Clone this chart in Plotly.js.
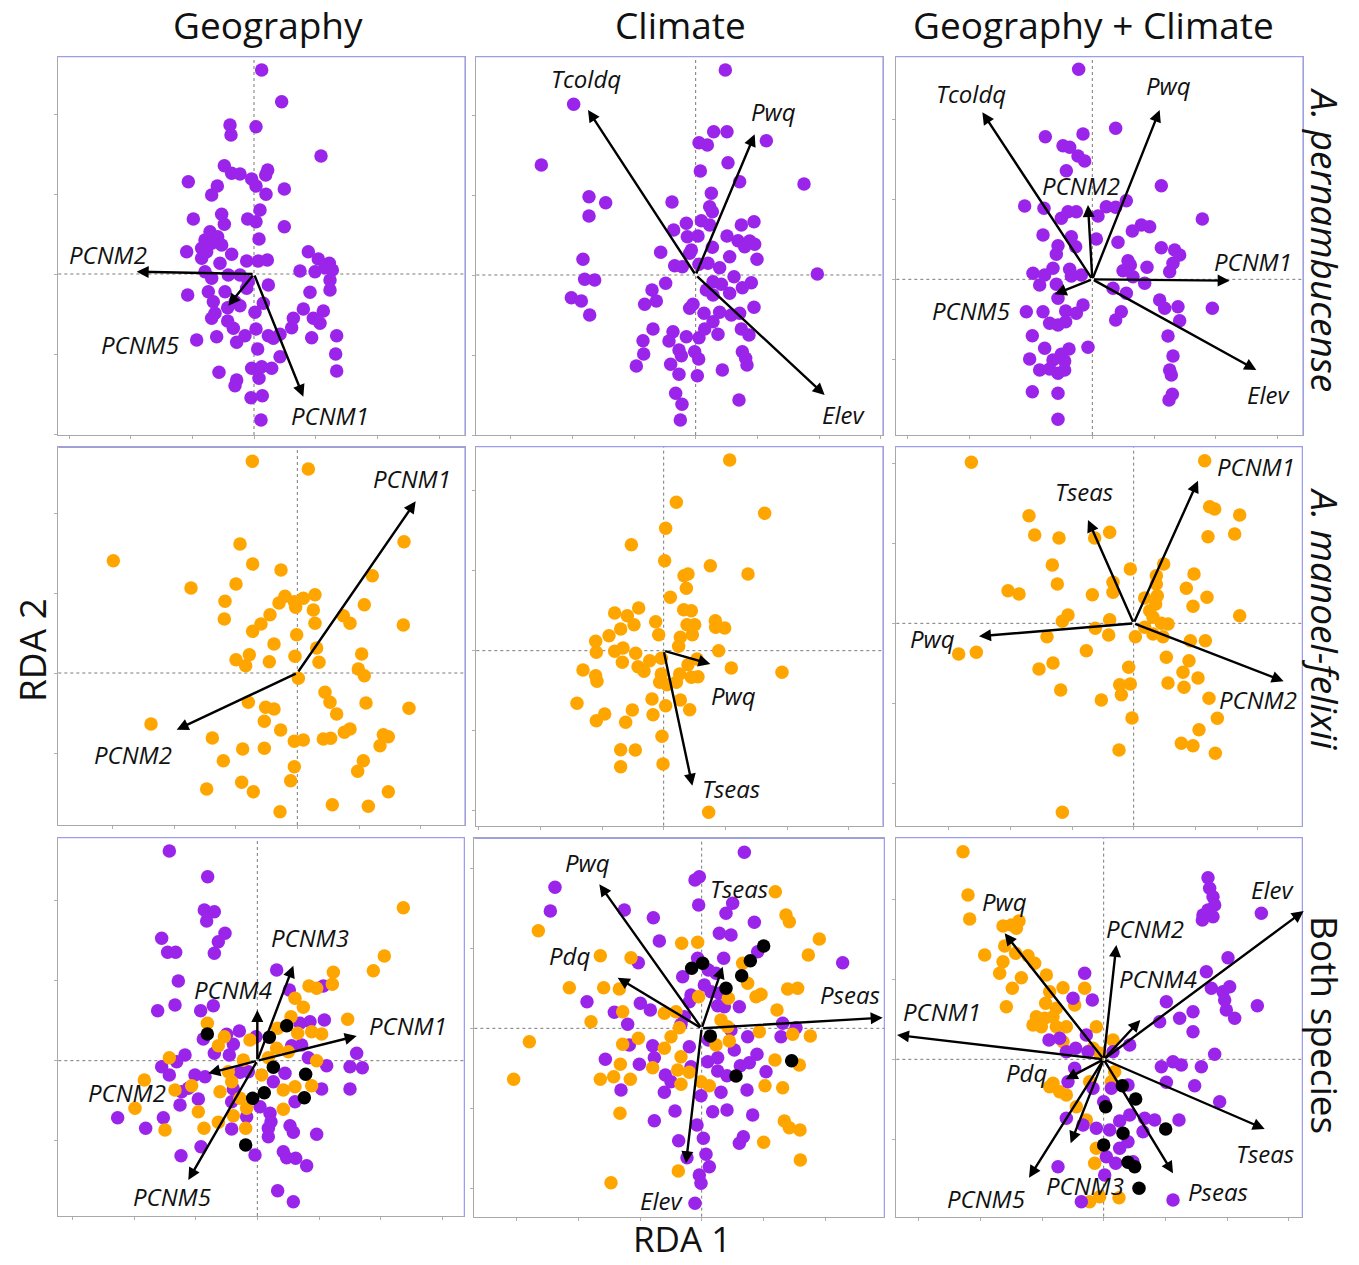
<!DOCTYPE html>
<html><head><meta charset="utf-8">
<script src="https://cdn.plot.ly/plotly-3.0.1.min.js"></script>
<style>html,body{margin:0;padding:0;background:#fff}#chart{width:1359px;height:1265px}</style>
</head><body><div id="chart"></div>
<script>
// ---------------- DATA (RDA site scores and biplot arrows) ----------------
const colTitles = ['Geography', 'Climate', 'Geography + Climate'];
const rowTitles = ['A. pernambucense', 'A. manoel-felixii', 'Both species'];
const axisTitleX = 'RDA 1';
const axisTitleY = 'RDA 2';

// Row 1: A. pernambucense
const p1Purple = [[0.23,6.12],[0.83,5.17],[-0.72,4.47],[0.06,4.42],[-0.69,4.17],[2.01,3.54],[-0.89,3.25],[-0.67,3.02],[-0.42,3.00],[0.41,3.12],[0.35,2.97],[-1.97,2.77],[-0.07,2.85],[-1.10,2.64],[-1.27,2.37],[0.06,2.64],[0.91,2.55],[0.36,2.39],[0.18,1.92],[-0.97,1.79],[-1.82,1.65],[-0.19,1.65],[0.06,1.57],[-0.89,1.49],[0.91,1.42],[-1.32,1.27],[-1.09,1.12],[0.15,1.05],[-1.47,1.02],[-1.27,0.92],[-0.97,0.87],[-1.57,0.77],[-2.02,0.67],[-1.42,0.67],[-0.67,0.59],[-1.57,0.47],[-0.22,0.39],[0.13,0.39],[0.40,0.42],[1.63,0.67],[1.93,0.45],[2.26,0.32],[2.13,0.19],[2.35,0.12],[1.38,0.09],[1.83,0.07],[-1.02,0.32],[-1.47,0.07],[-1.27,-0.13],[-0.77,-0.03],[-0.42,-0.03],[-0.17,-0.23],[0.43,-0.33],[2.28,-0.18],[2.28,-0.48],[1.68,-0.55],[-1.99,-0.63],[-1.37,-0.53],[-0.87,-0.53],[-1.22,-0.83],[-0.57,-0.83],[-0.42,-0.95],[0.28,-0.88],[1.48,-1.05],[-1.17,-1.18],[0.03,-1.15],[2.08,-1.11],[-1.27,-1.33],[-0.79,-1.41],[1.18,-1.33],[1.78,-1.33],[1.98,-1.48],[-0.62,-1.63],[0.06,-1.65],[1.13,-1.61],[-1.12,-1.88],[-0.27,-1.85],[0.43,-1.85],[0.78,-1.81],[0.58,-1.93],[-1.72,-1.98],[-0.52,-2.05],[1.73,-1.91],[2.48,-1.85],[0.11,-2.25],[0.78,-2.48],[2.45,-2.40],[-0.07,-2.83],[0.23,-2.78],[0.53,-2.83],[-1.05,-2.95],[0.15,-3.13],[-0.52,-3.18],[-0.57,-3.35],[2.48,-2.91],[-0.09,-3.71],[0.25,-3.65],[0.21,-4.38],[-0.79,-1.01],[-0.22,-0.43]];
const p1Vars = ['PCNM2','PCNM5','PCNM1'];
const p1Arrows = [[-3.52,0.07],[-0.77,-0.95],[1.48,-3.68]];

const p2Purple = [[0.89,6.15],[-3.66,5.12],[0.54,4.30],[0.94,4.30],[2.12,4.03],[0.10,3.97],[0.35,3.90],[-4.63,3.30],[0.97,3.37],[0.14,3.12],[1.32,2.80],[3.25,2.73],[0.47,2.45],[-3.20,2.35],[-2.70,2.17],[-0.71,2.19],[0.42,2.05],[0.50,1.90],[-3.20,1.77],[-0.28,1.55],[0.17,1.63],[0.42,1.50],[1.37,1.50],[1.75,1.60],[-0.66,1.35],[-0.25,1.15],[0.07,1.17],[0.94,1.17],[1.27,1.03],[1.62,1.02],[1.77,0.92],[1.47,0.85],[0.50,0.83],[-0.13,0.75],[-1.05,0.68],[-0.18,0.65],[1.02,0.55],[1.84,0.47],[-3.38,0.47],[-0.63,0.28],[-0.40,0.25],[0.10,0.32],[0.37,0.35],[0.72,0.22],[3.65,0.03],[1.15,-0.05],[-3.33,-0.13],[-3.03,-0.15],[0.52,-0.20],[0.77,-0.28],[1.67,-0.23],[1.40,-0.38],[-0.90,-0.25],[0.32,-0.45],[-1.31,-0.45],[1.02,-0.55],[0.52,-0.60],[-3.73,-0.68],[-3.43,-0.78],[-1.18,-0.78],[-1.53,-0.88],[-0.08,-0.88],[-0.18,-1.00],[1.75,-0.97],[0.25,-1.15],[0.72,-1.12],[1.07,-1.20],[1.32,-1.15],[-3.18,-1.20],[0.52,-1.40],[-1.28,-1.62],[-0.68,-1.70],[0.27,-1.62],[0.67,-1.78],[1.37,-1.62],[1.60,-1.80],[-0.28,-1.85],[0.10,-1.88],[-1.58,-1.97],[-0.80,-1.98],[-0.50,-2.25],[-0.43,-2.42],[-0.03,-2.30],[0.09,-2.52],[-1.56,-2.37],[1.40,-2.30],[1.50,-2.50],[1.54,-2.70],[-1.78,-2.73],[-0.75,-2.68],[-0.50,-2.98],[0.05,-3.02],[0.80,-2.85],[-0.60,-3.55],[-0.41,-3.88],[1.30,-3.75],[-0.46,-4.35]];
const p2Vars = ['Tcoldq','Pwq','Elev'];
const p2Arrows = [[-3.23,4.95],[1.77,4.22],[3.87,-3.60]];

const p3Purple = [[-0.41,6.30],[0.70,4.53],[-1.41,4.28],[-0.28,4.36],[-0.88,4.01],[-0.68,3.96],[-0.43,3.70],[-0.23,3.55],[-0.78,3.26],[2.07,2.81],[-2.03,2.20],[-1.45,2.13],[1.02,2.36],[0.42,2.18],[0.70,2.16],[-0.73,2.03],[-0.48,2.03],[0.17,1.90],[-0.93,1.83],[3.30,1.81],[1.47,1.63],[1.72,1.58],[1.20,1.45],[-1.48,1.33],[-0.63,1.28],[0.12,1.21],[0.77,1.11],[-0.50,0.98],[-1.03,1.01],[2.07,0.95],[2.47,0.88],[2.62,0.73],[-1.08,0.75],[2.42,0.48],[1.07,0.56],[1.14,0.43],[1.64,0.36],[-1.18,0.33],[-0.68,0.30],[0.92,0.26],[2.32,0.23],[-1.78,0.18],[-1.43,0.13],[-0.63,0.10],[-0.33,0.13],[1.22,0.08],[1.57,-0.12],[-1.58,-0.17],[-1.08,-0.15],[0.62,-0.27],[1.02,-0.42],[-1.03,-0.57],[2.02,-0.62],[2.17,-0.87],[2.57,-0.82],[3.60,-0.87],[-1.98,-0.97],[-1.48,-0.97],[-0.80,-0.95],[-0.28,-0.77],[-0.48,-1.02],[0.87,-0.97],[-1.28,-1.32],[-1.03,-1.37],[-0.80,-1.27],[0.70,-1.22],[2.62,-1.24],[-1.80,-1.69],[2.27,-1.70],[-1.43,-2.07],[-0.70,-2.09],[-0.13,-2.04],[-0.93,-2.25],[-1.88,-2.39],[-1.18,-2.42],[-0.83,-2.45],[2.42,-2.30],[-1.58,-2.72],[-1.28,-2.69],[-1.03,-2.82],[-0.83,-2.72],[2.32,-2.72],[2.37,-2.87],[-1.80,-3.37],[-1.03,-3.42],[2.40,-3.45],[2.30,-3.62],[-1.03,-4.20]];
const p3Vars = ['Tcoldq','Pwq','PCNM2','PCNM1','PCNM5','Elev'];
const p3Arrows = [[-3.30,5.01],[2.02,5.08],[-0.13,2.23],[4.12,-0.04],[-1.13,-0.45],[4.92,-2.72]];

// Row 2: A. manoel-felixii
const p4Orange = [[-1.35,6.35],[0.33,6.12],[-5.52,3.37],[-1.72,3.87],[3.20,3.94],[-1.34,3.27],[-0.49,3.09],[2.25,2.92],[-3.19,2.55],[-1.84,2.67],[-2.17,2.15],[-0.37,2.30],[-0.55,2.10],[-0.09,2.14],[0.18,2.24],[0.53,2.35],[-0.05,1.97],[0.48,1.89],[2.01,2.05],[-2.19,1.62],[-0.82,1.75],[-1.09,1.47],[0.53,1.49],[1.38,1.72],[1.58,1.49],[3.18,1.44],[-1.34,1.25],[-0.02,1.15],[-0.70,0.87],[0.58,0.75],[1.93,0.57],[-1.84,0.40],[-1.44,0.55],[-1.55,0.22],[-0.84,0.34],[-0.07,0.50],[0.65,0.32],[1.83,0.12],[2.01,-0.08],[0.03,-0.16],[0.83,-0.58],[0.98,-0.88],[-1.47,-0.88],[-0.95,-1.03],[-0.70,-1.08],[2.06,-0.90],[3.35,-1.06],[1.18,-1.23],[-0.99,-1.45],[-4.39,-1.53],[-0.50,-1.71],[1.41,-1.78],[1.58,-1.68],[-2.55,-1.95],[-0.09,-2.05],[0.18,-2.01],[0.78,-1.98],[1.00,-1.96],[2.58,-1.85],[2.73,-1.91],[2.48,-2.18],[-1.64,-2.28],[-0.99,-2.26],[-2.22,-2.63],[1.98,-2.63],[1.81,-2.95],[-0.09,-2.81],[-1.67,-3.28],[-0.20,-3.23],[-2.72,-3.48],[-1.32,-3.56],[2.73,-3.56],[1.05,-3.95],[2.13,-4.00],[-0.52,-4.16]];
const p4Vars = ['PCNM1','PCNM2'];
const p4Arrows = [[3.55,5.15],[-3.62,-1.70]];

const p5Orange = [[1.98,5.72],[0.38,4.45],[3.03,4.12],[0.06,3.67],[-0.97,3.18],[0.03,2.70],[1.40,2.55],[2.53,2.30],[0.61,2.25],[0.73,2.30],[0.68,1.87],[0.20,1.60],[-1.47,1.13],[-0.75,1.28],[-1.09,1.05],[-0.89,0.78],[0.60,1.23],[0.83,1.20],[-0.24,0.87],[0.70,0.78],[0.93,0.78],[1.55,0.90],[1.56,0.70],[1.83,0.68],[-1.29,0.65],[0.86,0.48],[-0.15,0.48],[-1.64,0.45],[0.50,0.40],[-2.04,0.28],[0.45,0.13],[1.65,0.00],[-2.02,-0.05],[-1.47,-0.02],[-1.22,0.08],[-0.84,-0.08],[-0.07,-0.23],[-0.42,-0.30],[-1.24,-0.35],[1.00,-0.25],[-0.77,-0.48],[-0.59,-0.62],[0.73,-0.42],[2.03,-0.52],[3.55,-0.65],[-2.42,-0.58],[-2.04,-0.75],[-2.00,-0.92],[-0.07,-0.70],[-0.12,-0.95],[0.10,-1.02],[0.38,-0.95],[0.48,-0.70],[1.03,-0.78],[0.83,-0.80],[-2.60,-1.58],[-0.35,-1.45],[0.06,-1.65],[0.50,-1.48],[0.78,-1.77],[-1.77,-1.90],[-2.02,-2.10],[-0.94,-1.78],[-0.32,-1.92],[-1.14,-2.15],[-0.05,-2.57],[-1.29,-2.97],[-0.85,-2.98],[-1.29,-3.48],[-0.02,-3.40],[1.35,-4.85]];
const p5Vars = ['Pwq','Tseas'];
const p5Arrows = [[1.40,-0.40],[0.86,-4.05]];

const p6Orange = [[-4.87,4.83],[2.13,4.88],[2.28,3.50],[2.43,3.43],[3.18,3.25],[-3.14,3.23],[3.03,2.68],[2.23,2.60],[-2.97,2.65],[-2.24,2.56],[-1.17,2.56],[-0.72,2.73],[-2.44,1.75],[-0.10,1.63],[0.90,1.78],[1.81,1.48],[0.68,1.43],[-2.29,1.18],[-0.62,1.23],[0.68,1.18],[1.58,1.05],[-3.77,0.98],[-3.44,0.88],[-1.24,0.86],[-0.62,0.93],[0.33,0.76],[0.71,0.83],[2.20,0.78],[0.66,0.58],[1.78,0.51],[0.48,0.38],[-1.97,0.25],[-2.14,0.06],[3.18,0.23],[-0.72,0.11],[0.58,0.18],[0.83,0.00],[1.03,-0.02],[-1.15,-0.15],[0.33,-0.12],[0.58,-0.32],[0.88,-0.40],[-2.60,-0.40],[-0.75,-0.35],[0.05,-0.40],[1.70,-0.52],[2.15,-0.52],[-5.25,-0.92],[-4.72,-0.87],[-1.42,-0.82],[0.98,-1.02],[1.66,-1.12],[-2.42,-1.19],[-2.84,-1.37],[-0.15,-1.32],[1.48,-1.47],[1.93,-1.64],[-0.42,-1.84],[-0.10,-1.82],[1.03,-1.79],[1.51,-1.92],[-0.37,-2.14],[-2.19,-2.00],[-0.97,-2.30],[2.26,-2.25],[-0.05,-2.84],[2.51,-2.85],[1.96,-3.19],[1.43,-3.60],[1.78,-3.67],[2.45,-3.90],[-0.44,-3.80],[-2.14,-5.67]];
const p6Vars = ['PCNM1','Tseas','Pwq','PCNM2'];
const p6Arrows = [[1.93,4.28],[-1.37,3.10],[-4.64,-0.39],[4.50,-1.74]];

// Row 3: both species (purple = A. pernambucense, orange = A. manoel-felixii, black = both)
const p7Purple = [[-2.64,6.29],[-1.49,5.52],[-1.59,4.52],[-1.29,4.47],[-1.52,4.19],[-0.97,3.82],[-1.17,3.57],[-2.87,3.67],[-2.69,3.25],[-2.45,3.25],[-1.29,3.22],[0.58,2.72],[-2.37,2.39],[1.98,2.24],[0.96,2.12],[-2.47,1.67],[-2.99,1.50],[-1.70,1.50],[-1.32,1.65],[2.01,1.22],[1.58,1.17],[1.28,1.12],[-0.54,0.89],[-0.92,0.79],[-1.62,0.65],[-0.72,0.49],[-0.04,0.72],[1.03,0.45],[1.33,0.47],[-1.29,0.22],[-0.84,0.17],[-2.17,0.17],[-2.42,-0.03],[-2.87,-0.18],[-2.64,-0.43],[2.98,0.22],[2.78,-0.18],[3.15,-0.21],[2.08,-0.15],[1.53,0.09],[0.83,-0.38],[-0.52,-0.35],[-0.27,-0.33],[-1.87,-0.43],[-1.57,-0.48],[0.48,-0.63],[1.93,-0.85],[2.78,-0.85],[-2.27,-0.93],[-2.07,-0.83],[-0.72,-0.85],[-1.77,-1.15],[-0.77,-1.23],[1.13,-1.23],[-2.32,-1.33],[0.08,-1.38],[0.38,-1.58],[-0.32,-1.68],[0.41,-1.83],[-4.19,-1.71],[-2.82,-1.71],[-3.35,-2.03],[-0.77,-2.05],[0.33,-2.03],[0.98,-1.95],[1.08,-2.15],[1.78,-2.21],[0.33,-2.28],[-1.69,-2.58],[-0.07,-2.83],[0.78,-2.73],[0.88,-2.91],[1.15,-2.93],[1.48,-3.15],[-2.29,-2.85],[0.61,-3.90],[1.08,-4.23]];
const p7Orange = [[4.38,4.59],[3.81,3.14],[3.48,2.70],[2.28,2.65],[2.25,2.29],[1.55,2.24],[1.78,2.17],[1.13,1.87],[1.38,1.60],[2.71,1.24],[1.01,1.32],[1.63,0.87],[1.93,0.80],[1.21,0.82],[0.61,0.97],[-1.50,1.12],[-0.99,0.72],[-1.17,0.45],[-0.22,0.62],[0.58,0.37],[0.93,0.27],[-2.64,0.09],[-0.42,0.02],[0.33,0.09],[1.78,0.00],[-0.87,-0.33],[0.13,-0.43],[-0.77,-0.63],[-3.39,-0.58],[-2.47,-0.88],[-1.97,-0.75],[0.78,-0.88],[1.13,-0.78],[1.63,-0.75],[-1.12,-0.93],[-0.52,-1.13],[-3.67,-1.43],[-1.77,-1.53],[-0.32,-1.43],[0.78,-1.46],[-0.72,-1.65],[-1.17,-1.85],[-2.77,-2.08],[-1.60,-2.03],[-0.35,-2.03]];
const p7Black = [[-1.50,0.80],[0.88,1.05],[0.36,0.70],[0.48,-0.20],[1.45,-0.41],[-0.14,-1.13],[0.21,-0.96],[1.41,-1.11],[-0.35,-2.53]];
const p7Vars = ['PCNM3','PCNM4','PCNM1','PCNM2','PCNM5'];
const p7Arrows = [[1.08,2.85],[0.00,1.52],[2.98,0.74],[-1.47,-0.38],[-2.07,-3.58]];

const p8Purple = [[1.28,5.28],[-0.07,4.55],[-0.20,4.45],[-4.40,4.23],[-0.09,3.70],[0.93,3.75],[0.73,3.45],[-4.54,3.52],[-2.32,3.55],[-1.45,3.32],[1.58,3.18],[0.53,2.85],[0.88,2.80],[-1.27,2.62],[4.23,1.97],[1.68,2.30],[-0.12,2.10],[0.66,2.10],[-1.90,1.97],[0.20,1.75],[0.43,1.65],[-0.57,1.55],[0.08,1.30],[0.28,1.10],[-0.32,1.00],[0.53,1.05],[-0.37,0.80],[-3.44,0.80],[-1.84,0.75],[-1.54,0.55],[-2.62,0.48],[0.48,0.68],[0.68,0.65],[1.13,0.65],[-0.52,0.35],[-2.22,0.12],[-0.62,0.12],[2.43,0.15],[2.83,0.02],[0.88,-0.05],[2.38,-0.25],[1.38,-0.25],[-2.17,-0.50],[-1.47,-0.52],[-0.37,-0.55],[0.20,-0.35],[0.98,-0.65],[1.66,-0.78],[-1.42,-0.88],[-2.89,-0.93],[0.18,-1.00],[0.48,-0.88],[1.43,-1.03],[1.16,-1.12],[-1.87,-1.08],[-0.32,-1.15],[0.48,-1.28],[0.76,-1.42],[1.93,-1.30],[-1.09,-1.40],[-0.92,-1.60],[-2.42,-1.85],[-1.12,-1.92],[-0.02,-2.02],[0.58,-1.92],[1.36,-1.85],[-0.80,-2.48],[0.33,-2.50],[0.76,-2.45],[1.53,-2.60],[-1.42,-2.77],[-0.14,-2.90],[-0.69,-3.37],[0.05,-3.30],[1.25,-3.25],[1.13,-3.45],[0.13,-3.78],[-0.44,-3.88],[0.23,-4.15],[-0.07,-4.40],[-0.02,-4.65],[-0.20,-5.25]];
const p8Orange = [[2.21,4.10],[2.53,3.40],[2.63,3.20],[-4.90,2.93],[-0.60,2.55],[-0.12,2.58],[3.53,2.68],[3.20,2.20],[-3.04,2.18],[-2.12,2.12],[1.23,1.95],[1.38,1.35],[1.63,0.95],[1.78,1.02],[2.58,1.18],[2.88,1.20],[-3.97,1.22],[-2.94,1.22],[-2.47,1.18],[-0.09,0.95],[0.80,0.90],[2.26,0.55],[-2.37,0.50],[-1.12,0.45],[-0.77,0.50],[-3.32,0.20],[0.58,0.25],[0.78,0.05],[-0.67,0.02],[1.73,-0.10],[2.73,-0.18],[3.26,-0.23],[-5.17,-0.40],[-2.37,-0.48],[-1.90,-0.30],[-0.92,-0.25],[0.43,-0.50],[0.83,-0.38],[-1.12,-0.60],[-0.62,-0.85],[2.20,-0.95],[2.93,-1.10],[-2.44,-1.08],[-1.47,-1.18],[-0.72,-1.25],[-0.37,-1.32],[-5.64,-1.53],[-3.04,-1.53],[-2.64,-1.45],[-2.14,-1.53],[-0.62,-1.68],[-0.02,-1.60],[0.23,-1.72],[1.90,-1.72],[2.43,-1.78],[-2.45,-2.55],[2.48,-2.78],[2.63,-2.98],[2.95,-3.05],[1.86,-3.42],[2.96,-3.95],[-0.70,-4.28],[-2.72,-4.63]];
const p8Black = [[1.86,2.47],[1.46,2.03],[0.03,1.95],[-0.30,1.80],[1.20,1.58],[0.73,1.20],[0.26,-0.23],[2.70,-0.97],[1.03,-1.43]];
const p8Vars = ['Pwq','Pdq','Tseas','Pseas','Elev'];
const p8Arrows = [[-3.07,4.32],[-2.52,1.52],[0.63,1.85],[5.43,0.32],[-0.47,-4.05]];

const p9Orange = [[-4.22,6.23],[-4.07,4.93],[-4.02,4.21],[-3.02,4.00],[-2.77,4.03],[-2.54,4.15],[-2.62,3.93],[-2.97,3.40],[-3.57,3.13],[-2.64,3.18],[-2.27,3.11],[-3.02,2.93],[-2.07,2.88],[-3.12,2.58],[-2.47,2.45],[-1.72,2.53],[-2.74,2.13],[-1.22,2.15],[-0.57,2.13],[-1.62,2.03],[-1.74,1.68],[-2.92,1.58],[-1.42,1.53],[-0.87,1.63],[-2.02,1.28],[-1.77,1.23],[-1.52,1.28],[-2.12,1.03],[-1.87,0.98],[-1.42,0.98],[-1.12,0.98],[-0.22,0.98],[-1.22,0.53],[0.28,0.58],[-0.32,0.33],[-0.12,0.18],[-1.52,-0.72],[-1.62,-0.82],[-1.32,-0.97],[-1.12,-1.07],[-0.42,-0.67],[-0.82,-1.42],[-0.52,-1.82],[0.33,-0.37],[0.23,-0.67],[-0.22,-2.67],[-0.27,-3.12],[-0.42,-4.27],[-0.12,-4.12],[0.46,-4.15]];
const p9Purple = [[3.13,5.45],[3.18,5.13],[3.28,4.88],[3.33,4.63],[3.13,4.48],[2.98,4.33],[3.28,4.28],[2.96,4.18],[4.73,4.38],[3.73,3.05],[3.08,2.63],[-0.57,2.58],[3.23,2.13],[3.58,2.03],[3.78,2.18],[3.63,1.78],[3.68,1.48],[3.93,1.23],[4.61,1.61],[2.68,1.43],[1.88,1.73],[1.68,1.13],[2.28,1.23],[2.68,0.83],[-0.34,1.78],[-0.92,1.83],[-1.64,0.58],[-1.32,0.63],[-0.52,0.73],[-0.84,0.33],[-1.12,0.23],[-0.47,0.23],[0.28,0.23],[0.78,0.43],[3.33,0.15],[2.08,-0.07],[2.33,-0.17],[1.73,-0.22],[2.93,-0.22],[1.88,-0.69],[2.73,-0.79],[3.48,-1.27],[-0.87,-0.27],[-1.07,-0.67],[-0.32,-0.87],[0.23,-0.87],[0.73,-0.77],[0.00,-1.27],[0.78,-1.67],[0.48,-1.85],[-1.12,-1.77],[-0.62,-1.97],[-0.22,-2.07],[0.18,-2.12],[1.23,-1.77],[1.53,-1.82],[2.26,-1.82],[1.18,-2.17],[0.73,-2.47],[0.48,-2.67],[0.08,-2.92],[0.88,-3.07],[-1.37,-3.22],[0.03,-3.47],[2.08,-4.22],[-0.67,-4.27],[0.36,-3.12]];
const p9Black = [[0.56,-0.79],[0.96,-1.19],[0.06,-1.42],[1.86,-2.09],[0.58,-2.22],[0.00,-2.57],[0.73,-3.09],[0.93,-3.22],[1.06,-3.87]];
const p9Vars = ['Pwq','PCNM2','PCNM4','Elev','PCNM1','Pdq','Tseas','Pseas','PCNM3','PCNM5'];
const p9Arrows = [[-2.97,3.78],[0.38,3.43],[1.10,1.18],[6.00,4.45],[-6.20,0.73],[-1.14,-0.60],[4.83,-2.09],[2.08,-3.42],[-0.99,-2.52],[-2.24,-3.55]];

// ---------------- LAYOUT / STYLE ----------------
const W = 1359, H = 1265;
const PXU = 100 / 3;            // screen pixels per RDA unit
const PURPLE = '#9b24ea', ORANGE = '#ffa500', BLACK = '#000000';
const FONT = "'Open Sans', 'Noto Sans', sans-serif";

// label anchor points for the arrow names (same units as the axes)
const labelAt = [
  [[-4.37,0.60],[-3.42,-2.11],[2.28,-4.25]],
  [[-3.28,5.90],[2.32,4.92],[4.44,-4.18]],
  [[-3.63,5.58],[2.27,5.81],[-0.33,2.81],[4.82,0.53],[-3.63,-0.92],[5.27,-3.44]],
  [[3.43,5.84],[-4.92,-2.43]],
  [[2.08,-1.35],[2.03,-4.12]],
  [[3.66,4.70],[-1.50,3.96],[-6.04,-0.44],[3.73,-2.27]],
  [[1.58,3.69],[-0.72,2.12],[4.53,1.05],[-3.92,-0.95],[-2.57,-4.08]],
  [[-3.42,4.98],[-3.97,2.18],[1.13,4.20],[4.46,1.02],[-1.22,-5.15]],
  [[-2.97,4.73],[1.23,3.93],[1.63,2.43],[5.06,5.08],[-4.84,1.43],[-2.32,-0.39],[4.83,-2.82],[3.43,-3.97],[-0.57,-3.79],[-3.52,-4.19]]
];

// panel boxes in page pixels [left, top, right, bottom] and the origin crossing [x, y]
const panels = [
  {box:[58.33,56.67,465,435],       origin:[254,274],        groups:[[p1Purple,PURPLE]], vars:p1Vars, arrows:p1Arrows},
  {box:[476.33,56.67,883,435],      origin:[695.67,275],     groups:[[p2Purple,PURPLE]], vars:p2Vars, arrows:p2Arrows},
  {box:[896.33,56.67,1303,435],     origin:[1092.33,279.33], groups:[[p3Purple,PURPLE]], vars:p3Vars, arrows:p3Arrows},
  {box:[58.33,447.33,465,825],      origin:[297.33,673],     groups:[[p4Orange,ORANGE]], vars:p4Vars, arrows:p4Arrows},
  {box:[476.33,446.67,883,825.67],  origin:[663.67,650.67],  groups:[[p5Orange,ORANGE]], vars:p5Vars, arrows:p5Arrows},
  {box:[896.33,446.67,1302.33,825.67], origin:[1133.67,623.33], groups:[[p6Orange,ORANGE]], vars:p6Vars, arrows:p6Arrows},
  {box:[58.33,837.67,464.33,1216],  origin:[257.33,1060.67], groups:[[p7Purple,PURPLE],[p7Orange,ORANGE],[p7Black,BLACK]], vars:p7Vars, arrows:p7Arrows},
  {box:[474.33,838.33,884.33,1216.67], origin:[701.67,1028.33], groups:[[p8Purple,PURPLE],[p8Orange,ORANGE],[p8Black,BLACK]], vars:p8Vars, arrows:p8Arrows},
  {box:[896.33,837.67,1302.33,1216.67], origin:[1103.67,1059.33], groups:[[p9Orange,ORANGE],[p9Purple,PURPLE],[p9Black,BLACK]], vars:p9Vars, arrows:p9Arrows}
];

const data = [];
const layout = {
  width: W, height: H,
  margin: {l:0, r:0, t:0, b:0},
  paper_bgcolor: '#ffffff', plot_bgcolor: '#ffffff',
  showlegend: false,
  font: {family: FONT, color: '#111'},
  shapes: [], annotations: []
};

panels.forEach((p, i) => {
  const n = i + 1;
  const xs = n === 1 ? 'x' : 'x' + n;
  const ys = n === 1 ? 'y' : 'y' + n;
  const [l, t, r, b] = p.box;
  const [ox, oy] = p.origin;
  const axCommon = {showgrid:false, zeroline:false, showticklabels:false, ticks:'outside', ticklen:3,
    tickcolor:'#b0b0b0', tickwidth:1, tick0:0, showline:true, mirror:true, linecolor:'#a8a8a8', linewidth:1, fixedrange:true};
  layout[n === 1 ? 'xaxis' : 'xaxis' + n] = Object.assign({}, axCommon, {
    domain:[l / W, r / W], range:[(l - ox) / PXU, (r - ox) / PXU], anchor: ys, dtick:1.85});
  layout[n === 1 ? 'yaxis' : 'yaxis' + n] = Object.assign({}, axCommon, {
    domain:[1 - b / H, 1 - t / H], range:[(oy - b) / PXU, (oy - t) / PXU], anchor: xs, dtick:2.4});

  // dotted reference lines through the origin
  layout.shapes.push({type:'line', xref:xs, yref:ys + ' domain', x0:0, x1:0, y0:0, y1:1, layer:'below',
    line:{color:'#7a7a7a', width:1, dash:'dot'}});
  layout.shapes.push({type:'line', xref:xs + ' domain', yref:ys, x0:0, x1:1, y0:0, y1:0, layer:'below',
    line:{color:'#7a7a7a', width:1, dash:'dot'}});
  // bluish top and right frame edges
  layout.shapes.push({type:'line', xref:xs + ' domain', yref:ys + ' domain', x0:0, x1:1, y0:1, y1:1,
    line:{color:'#9c9cee', width:1.2}});
  layout.shapes.push({type:'line', xref:xs + ' domain', yref:ys + ' domain', x0:1, x1:1, y0:0, y1:1,
    line:{color:'#9c9cee', width:1.2}});

  p.groups.forEach(([pts, col]) => {
    data.push({type:'scatter', mode:'markers', x:pts.map(d => d[0]), y:pts.map(d => d[1]),
      xaxis:xs, yaxis:ys, hoverinfo:'skip', marker:{size:13.5, color:col, line:{width:0}}});
  });

  p.arrows.forEach((a, k) => {
    layout.annotations.push({xref:xs, yref:ys, axref:xs, ayref:ys, x:a[0], y:a[1], ax:0, ay:0,
      text:'', showarrow:true, arrowhead:2, arrowsize:1, arrowwidth:2.4, arrowcolor:'#000',
      standoff:0, startstandoff:0, font:{size:1}});
    const lp = labelAt[i][k];
    layout.annotations.push({xref:xs, yref:ys, x:lp[0], y:lp[1], text:'<i>' + p.vars[k] + '</i>',
      showarrow:false, xanchor:'center', yanchor:'middle', font:{family:FONT, size:24, color:'#111'}});
  });
});

// column titles
const colX = [267.5, 680, 1093];
colTitles.forEach((txt, c) => layout.annotations.push({xref:'paper', yref:'paper', x:colX[c] / W, y:1 - 25 / H,
  text:txt, showarrow:false, xanchor:'center', yanchor:'middle', font:{family:FONT, size:37, color:'#111'}}));

// row titles (rotated)
const rowY = [239, 618, 1025];
rowTitles.forEach((txt, r) => layout.annotations.push({xref:'paper', yref:'paper', x:1326 / W, y:1 - rowY[r] / H,
  text: r < 2 ? '<i>' + txt + '</i>' : txt, textangle:90, showarrow:false, xanchor:'center', yanchor:'middle',
  font:{family:FONT, size:37, color:'#111'}}));

// shared axis titles
layout.annotations.push({xref:'paper', yref:'paper', x:682 / W, y:1 - 1238 / H, text:axisTitleX, showarrow:false,
  xanchor:'center', yanchor:'middle', borderpad:0, font:{family:FONT, size:35, color:'#111'}});
layout.annotations.push({xref:'paper', yref:'paper', x:31 / W, y:1 - 650 / H, text:axisTitleY, textangle:-90, showarrow:false,
  xanchor:'center', yanchor:'middle', font:{family:FONT, size:37, color:'#111'}});

Plotly.newPlot('chart', data, layout, {staticPlot:true, displayModeBar:false});
</script>
</body></html>
